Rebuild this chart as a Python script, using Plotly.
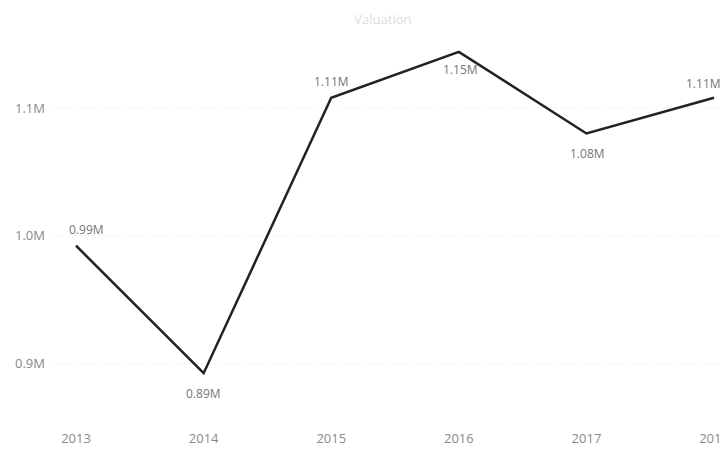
import plotly.graph_objects as go

years = [2013, 2014, 2015, 2016, 2017, 2018]
values = [992000, 892000, 1108000, 1144000, 1080000, 1108000]
labels = ["0.99M", "0.89M", "1.11M", "1.15M", "1.08M", "1.11M"]
label_dx = [10, 0, 0, 2, 1, -11]
label_dy = [16, -20, 16, -18, -20, 14]
y_ticks = [900000, 1000000, 1100000]
y_tick_text = ["0.9M", "1.0M", "1.1M"]
title_text = "Valuation"

fig = go.Figure(go.Scatter(
    x=years, y=values, mode="lines",
    line=dict(color="#222222", width=2.5),
    hoverinfo="skip",
))

for x, y, t, dx, dy in zip(years, values, labels, label_dx, label_dy):
    fig.add_annotation(x=x, y=y, text=t, showarrow=False, xshift=dx, yshift=dy,
                       font=dict(color="#767676", size=12, family="Open Sans"))

fig.update_layout(
    width=728, height=452,
    margin=dict(l=42, r=0, t=32, b=35),
    paper_bgcolor="white", plot_bgcolor="white",
    showlegend=False,
    title=dict(text=title_text, x=0.515, y=0.985, xanchor="center",
               font=dict(color="#dcdcdc", size=13, family="Open Sans")),
    font=dict(family="Open Sans", color="#8a8a8a", size=13),
    xaxis=dict(range=[2012.796, 2018.172], tickvals=years, ticktext=[str(y) for y in years],
               showgrid=False, zeroline=False, showline=False, ticks="", ticklabelstandoff=4,
               tickfont=dict(color="#8a8a8a", size=13)),
    yaxis=dict(range=[851400, 1153300], tickvals=y_ticks, ticktext=y_tick_text,
               showgrid=True, gridcolor="#f0f0f0", griddash="dot", gridwidth=1,
               zeroline=False, showline=False, ticks="", ticklabelstandoff=4,
               tickfont=dict(color="#8a8a8a", size=13)),
)

fig.write_html("out.html")
